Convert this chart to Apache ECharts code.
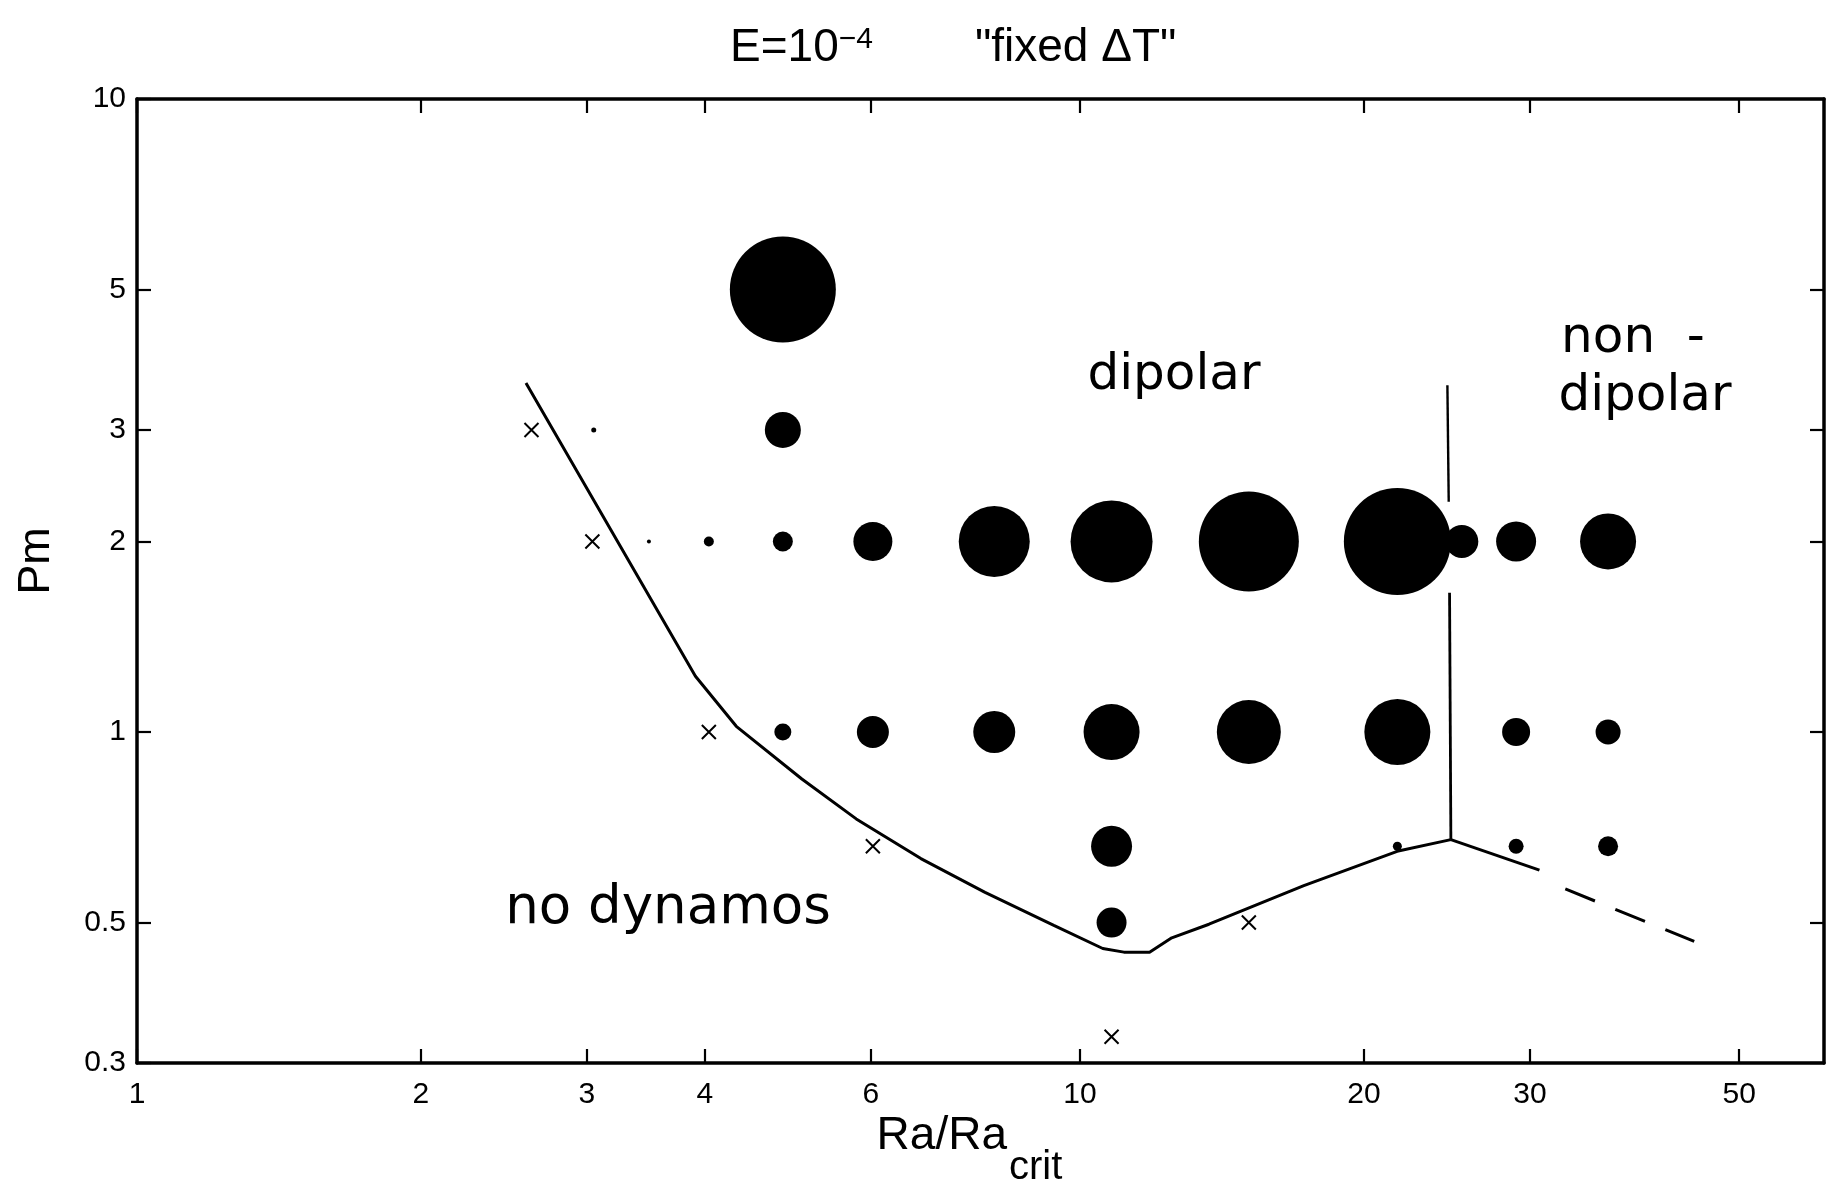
<!DOCTYPE html>
<html><head><meta charset="utf-8">
<script src="https://cdn.jsdelivr.net/npm/echarts@6/dist/echarts.min.js"></script>
<style>html,body{margin:0;padding:0;background:#fff}#c{width:1832px;height:1192px}</style>
</head><body><div id="c"></div>
<script>
// ---- tick labels ----
const xTicks = [1, 2, 3, 4, 6, 10, 20, 30, 50];
const yTicks = [0.3, 0.5, 1, 2, 3, 5, 10];

// ---- dynamo runs (filled circles): Ra/Ra_crit, Pm, relative dipole strength ----
const dynRa = [4.84, 3.05, 4.84, 3.49, 4.04, 4.84, 6.03, 8.11, 10.8, 15.1, 21.7, 25.4, 29.0, 36.3,
               4.84, 6.03, 8.11, 10.8, 15.1, 21.7, 29.0, 36.3, 10.8, 21.7, 29.0, 36.3, 10.8];
const dynPm = [5, 3, 3, 2, 2, 2, 2, 2, 2, 2, 2, 2, 2, 2,
               1, 1, 1, 1, 1, 1, 1, 1, 0.66, 0.66, 0.66, 0.66, 0.5];
const dynStrength = [10.6, 0.5, 3.6, 0.4, 1.0, 2.0, 3.9, 7.1, 8.2, 10.0, 10.7, 3.3, 4.0, 5.6,
                     1.7, 3.2, 4.2, 5.6, 6.4, 6.6, 2.8, 2.5, 4.1, 0.9, 1.5, 2.0, 3.0];

// ---- failed runs (crosses) ----
const failRa = [2.62, 3.04, 4.04, 6.03, 15.1, 10.8];
const failPm = [3, 2, 1, 0.66, 0.5, 0.33];

// ---- regime boundaries ----
const curveRa = [2.585, 3.91, 4.32, 5.07, 5.79, 6.78, 7.93, 9.38, 10.57, 11.13, 11.85, 12.51, 13.70, 17.27, 21.69, 24.73];
const curvePm = [3.56, 1.225, 1.021, 0.843, 0.729, 0.631, 0.558, 0.495, 0.455, 0.449, 0.449, 0.473, 0.497, 0.572, 0.648, 0.676];
const vertLowRa = [24.73, 24.65];
const vertLowPm = [0.676, 1.66];
const vertUpRa = [24.6, 24.52];
const vertUpPm = [2.31, 3.53];
const extSolidRa = [24.73, 30.7];
const extSolidPm = [0.676, 0.605];
const extDashRa = [32.7, 44.8];
const extDashPm = [0.565, 0.467];

const zip = (a, b, c) => a.map((v, i) => c ? [v, b[i], c[i]] : [v, b[i]]);

const FONT = 'Liberation Sans, Arial, Helvetica, sans-serif';
const HAND = 'DejaVu Sans, sans-serif';
const axisLineStyle = { color: '#000', width: 3.5 };

function xAxis(pos, showLabel) {
  return {
    type: 'log', logBase: 10, min: 1, max: 61.5, position: pos,
    axisLine: { show: true, onZero: false, lineStyle: axisLineStyle },
    axisTick: { show: true, inside: true, length: 14, lineStyle: { color: '#000', width: 2.2 }, customValues: xTicks },
    minorTick: { show: false },
    splitLine: { show: false },
    axisLabel: showLabel ? {
      show: true, customValues: xTicks, color: '#000', fontSize: 30, fontFamily: FONT, margin: 17,
      formatter: v => String(Math.round(v))
    } : { show: false }
  };
}
function yAxis(pos, showLabel) {
  return {
    type: 'log', logBase: 10, min: 0.3, max: 10, position: pos,
    axisLine: { show: true, onZero: false, lineStyle: axisLineStyle },
    axisTick: { show: true, inside: true, length: 14, lineStyle: { color: '#000', width: 2.2 }, customValues: yTicks },
    minorTick: { show: false },
    splitLine: { show: false },
    axisLabel: showLabel ? {
      show: true, customValues: yTicks, color: '#000', fontSize: 30, fontFamily: FONT, margin: 11,
      formatter: v => String(+v.toFixed(1))
    } : { show: false }
  };
}

const ya0 = yAxis('left', true);
ya0.name = 'Pm';
ya0.nameLocation = 'middle';
ya0.nameGap = 78;
ya0.nameMoveOverlap = false;
ya0.nameTextStyle = { color: '#000', fontFamily: FONT, fontSize: 45, padding: [0, 0, 0, 40] };

const option = {
  animation: false,
  backgroundColor: '#fff',
  title: {
    text: '{a|E=10}{b|−4}{g| }{a|"fixed ΔT"}',
    left: 725, top: 20,
    textStyle: {
      fontWeight: 'normal',
      rich: {
        a: { fontSize: 46, lineHeight: 56, verticalAlign: 'top', fontFamily: FONT, fontWeight: 'normal', color: '#000' },
        b: { fontSize: 30, lineHeight: 30, verticalAlign: 'top', fontFamily: FONT, fontWeight: 'normal', color: '#000' },
        g: { width: 102, fontSize: 30 }
      }
    }
  },
  grid: { left: 137, right: 8, top: 99, bottom: 129, containLabel: false, outerBoundsMode: 'none' },
  xAxis: [xAxis('bottom', true), xAxis('top', false)],
  yAxis: [ya0, yAxis('right', false)],
  series: [
    { type: 'line', data: zip(curveRa, curvePm), symbol: 'none', lineStyle: { color: '#000', width: 3 }, z: 2 },
    { type: 'line', data: zip(vertLowRa, vertLowPm), symbol: 'none', lineStyle: { color: '#000', width: 2.8 }, z: 2 },
    { type: 'line', data: zip(vertUpRa, vertUpPm), symbol: 'none', lineStyle: { color: '#000', width: 2.4 }, z: 2 },
    { type: 'line', data: zip(extSolidRa, extSolidPm), symbol: 'none', lineStyle: { color: '#000', width: 3 }, z: 2 },
    { type: 'line', data: zip(extDashRa, extDashPm), symbol: 'none', lineStyle: { color: '#000', width: 3, type: [32, 22] }, z: 2 },
    {
      type: 'scatter', data: zip(dynRa, dynPm, dynStrength),
      symbol: 'circle', symbolSize: v => v[2] * 10,
      itemStyle: { color: '#000', opacity: 1 }, z: 3
    },
    {
      type: 'scatter', data: zip(failRa, failPm),
      symbol: 'path://M0,0L10,10M10,0L0,10', symbolSize: 14,
      itemStyle: { color: 'none', borderColor: '#000', borderWidth: 2, opacity: 1 }, z: 3
    }
  ],
  graphic: [
    // x-axis title with subscript
    { type: 'text', x: 1007, y: 1136, style: { text: 'Ra/Ra', font: '46px ' + FONT, fill: '#000', textAlign: 'right', textVerticalAlign: 'middle' } },
    { type: 'text', x: 1009, y: 1168, style: { text: 'crit', font: '40px ' + FONT, fill: '#000', textAlign: 'left', textVerticalAlign: 'middle' } },
    // hand-written region labels
    { type: 'text', x: 1174, y: 376, style: { text: 'dipolar', font: '50px ' + HAND, fill: '#000', textAlign: 'center', textVerticalAlign: 'middle' } },
    { type: 'text', x: 1633, y: 339, style: { text: 'non  -', font: '50px ' + HAND, fill: '#000', textAlign: 'center', textVerticalAlign: 'middle' } },
    { type: 'text', x: 1645, y: 397, style: { text: 'dipolar', font: '50px ' + HAND, fill: '#000', textAlign: 'center', textVerticalAlign: 'middle' } },
    { type: 'text', x: 668, y: 909, style: { text: 'no dynamos', font: '53px ' + HAND, fill: '#000', textAlign: 'center', textVerticalAlign: 'middle' } }
  ]
};
const chart = echarts.init(document.getElementById('c'), null, { renderer: 'canvas' });
chart.setOption(option);
</script></body></html>
